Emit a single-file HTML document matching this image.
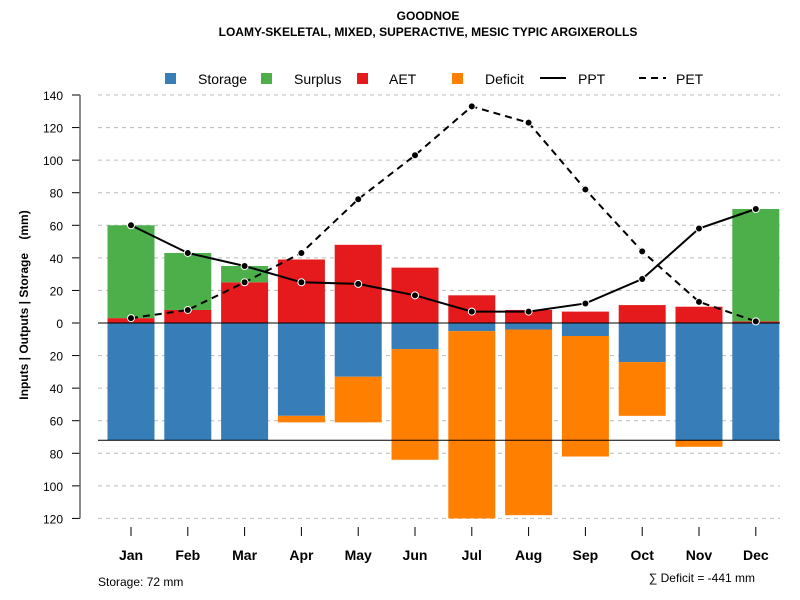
<!DOCTYPE html>
<html><head><meta charset="utf-8"><style>body{margin:0;background:#fff}svg{display:block;font-family:"Liberation Sans",Arial,sans-serif}</style></head>
<body>
<svg id="chart" width="800" height="600" viewBox="0 0 800 600">
<text x="428" y="20" text-anchor="middle" font-size="12" font-weight="bold">GOODNOE</text>
<text x="428" y="36" text-anchor="middle" font-size="12" font-weight="bold">LOAMY-SKELETAL, MIXED, SUPERACTIVE, MESIC TYPIC ARGIXEROLLS</text>
<g>
<rect x="165" y="73" width="11" height="11" fill="#377eb8"/>
<text x="198" y="84" font-size="14">Storage</text>
<rect x="261" y="73" width="11" height="11" fill="#4daf4a"/>
<text x="294" y="84" font-size="14">Surplus</text>
<rect x="357" y="73" width="11" height="11" fill="#e41a1c"/>
<text x="389" y="84" font-size="14">AET</text>
<rect x="452" y="73" width="11" height="11" fill="#ff7f00"/>
<text x="485" y="84" font-size="14">Deficit</text>
<line x1="540" y1="78" x2="566" y2="78" stroke="#000" stroke-width="2"/>
<text x="578" y="84" font-size="14">PPT</text>
<line x1="639" y1="78" x2="666" y2="78" stroke="#000" stroke-width="2" stroke-dasharray="7,5"/>
<text x="676" y="84" font-size="14">PET</text>
</g>
<g id="grid"></g><g id="bars"></g><g id="lines"></g><g id="axes"></g>
<text transform="translate(28,305) rotate(-90)" text-anchor="middle" font-size="12" font-weight="bold" style="white-space:pre">Inputs | Outputs | Storage    (mm)</text>
<text x="98" y="586" font-size="12">Storage: 72 mm</text>
<text x="755" y="582" text-anchor="end" font-size="12">∑ Deficit = -441 mm</text>
</svg>
<script>
const months=["Jan","Feb","Mar","Apr","May","Jun","Jul","Aug","Sep","Oct","Nov","Dec"];
const ppt=[60,43,35,25,24,17,7,7,12,27,58,70];
const pet=[3,8,25,43,76,103,133,123,82,44,13,1];
const aet=[3,8,25,39,48,34,17,8,7,11,10,1];
const surplus=[57,35,10,0,0,0,0,0,0,0,0,69];
const storage=[72,72,72,57,33,16,5,4,8,24,72,72];
const deficit=[0,0,0,4,28,68,115,114,74,33,4,0];
const yTicks=[140,120,100,80,60,40,20,0,-20,-40,-60,-80,-100,-120];
const maxStorage=72;
const NS="http://www.w3.org/2000/svg";
const y=v=>323-v*(228/140);
const x=i=>131+i*56.8;
const bw=47;
function mk(tag,attrs,parent){const e=document.createElementNS(NS,tag);for(const k in attrs)e.setAttribute(k,attrs[k]);document.getElementById(parent).appendChild(e);return e;}
yTicks.forEach(t=>{
  let g=mk("line",{x1:98,x2:780,y1:y(t),y2:y(t),stroke:"#bbb","stroke-dasharray":"4,4"},"grid");
  
  
  let tk=mk("line",{x1:72,x2:80,y1:y(t),y2:y(t),stroke:"#000"},"axes");
  
  
  let lb=mk("text",{x:63,y:y(t)+5,"text-anchor":"end","font-size":"12"},"axes");
  lb.textContent=Math.abs(t);
  
  
});
let ax=mk("line",{x1:80,x2:80,y1:y(140),y2:y(-120),stroke:"#666","stroke-width":1.5},"axes");


months.forEach((m,i)=>{
  const cx=x(i),l=cx-bw/2;
  let r1=mk("rect",{x:l,y:y(aet[i]),width:bw,height:y(0)-y(aet[i]),fill:"#e41a1c"},"bars");
  
  
  let r2=mk("rect",{x:l,y:y(aet[i]+surplus[i]),width:bw,height:y(aet[i])-y(aet[i]+surplus[i]),fill:"#4daf4a"},"bars");
  
  
  let r3=mk("rect",{x:l,y:y(0),width:bw,height:y(-storage[i])-y(0),fill:"#377eb8"},"bars");
  
  
  let r4=mk("rect",{x:l,y:y(-storage[i]),width:bw,height:y(-storage[i]-deficit[i])-y(-storage[i]),fill:"#ff7f00"},"bars");
  
  
  let tk=mk("line",{x1:cx,x2:cx,y1:527,y2:536,stroke:"#000"},"axes");
  
  
  let lb=mk("text",{x:cx,y:560,"text-anchor":"middle","font-size":"14","font-weight":"bold"},"axes");
  lb.textContent=m;
  
  
});
let z=mk("line",{x1:98,x2:780,y1:y(0),y2:y(0),stroke:"#000"},"bars");


let sl=mk("line",{x1:98,x2:780,y1:y(-maxStorage),y2:y(-maxStorage),stroke:"#000"},"bars");


function series(vals,dash,name){
  let p=mk("polyline",{points:vals.map((v,i)=>x(i)+","+y(v)).join(" "),fill:"none",stroke:"#000","stroke-width":2,"stroke-dasharray":dash},"lines");
  
  
  vals.forEach((v,i)=>{
    let c=mk("circle",{cx:x(i),cy:y(v),r:3.5,fill:"#000",stroke:"#fff","stroke-width":1},"lines");
    
    
  });
}
series(ppt,"none","ppt");
series(pet,"7,5","pet");
</script>
</body></html>
